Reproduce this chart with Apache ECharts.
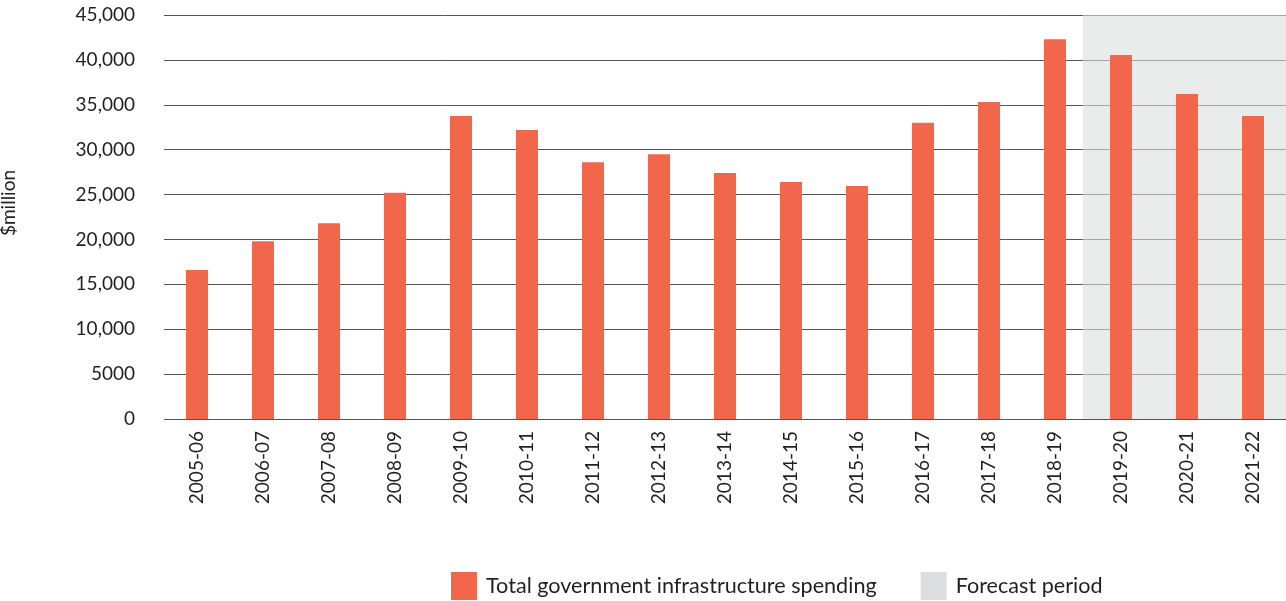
<!DOCTYPE html>
<html>
<head>
<meta charset="utf-8">
<script src="https://cdn.jsdelivr.net/npm/echarts@6/dist/echarts.min.js"></script>
<style>
  html, body { margin: 0; padding: 0; background: #fff; }
  #chart { width: 1286px; height: 601px; }
</style>
</head>
<body>
<div id="chart"></div>
<script>
var categories = ['2005-06','2006-07','2007-08','2008-09','2009-10','2010-11','2011-12','2012-13','2013-14','2014-15','2015-16','2016-17','2017-18','2018-19','2019-20','2020-21','2021-22'];
var spending = [16600, 19800, 21800, 25200, 33750, 32200, 28600, 29500, 27400, 26400, 25950, 33000, 35300, 42300, 40550, 36200, 33750];
var yTicks = [0, 5000, 10000, 15000, 20000, 25000, 30000, 35000, 40000, 45000];
var forecastStart = 13.42;   // forecast band start, in category index units
var forecastEnd = 16.5;

var FONT = 'Lato';
var chart = echarts.init(document.getElementById('chart'));
chart.setOption({
  animation: false,
  textStyle: { fontFamily: FONT },
  grid: { left: 164, right: 0, top: 15, bottom: 182, containLabel: false, outerBoundsMode: 'none' },
  legend: {
    top: 572,
    left: 451,
    padding: 0,
    icon: 'rect',
    itemWidth: 26,
    itemHeight: 28,
    itemGap: 44,
    textStyle: { fontFamily: FONT, fontSize: 21.6, color: '#231F20', padding: [0, 0, 0, 4] },
    data: ['Total government infrastructure spending', 'Forecast period']
  },
  xAxis: [{
    type: 'category',
    data: categories,
    boundaryGap: true,
    axisLine: { show: false },
    axisTick: { show: false },
    axisLabel: { rotate: 90, fontSize: 19, color: '#231F20', margin: 12, fontFamily: FONT }
  }, {
    type: 'value',
    min: -0.5,
    max: 16.5,
    show: false
  }],
  yAxis: {
    type: 'value',
    min: 0,
    max: 45000,
    interval: 5000,
    name: '$million',
    nameLocation: 'middle',
    nameRotate: 90,
    nameGap: 146,
    nameTextStyle: { fontSize: 19, color: '#231F20', fontFamily: FONT, padding: [0, 0, 0, 28] },
    axisLine: { show: false },
    axisTick: { show: false },
    splitLine: { lineStyle: { color: '#555', width: 1 } },
    axisLabel: {
      fontSize: 19, color: '#231F20', margin: 29, fontFamily: FONT,
      formatter: function (v) {
        if (yTicks.indexOf(v) < 0) return '';
        return v >= 10000 ? v.toLocaleString('en-US') : String(v);
      }
    }
  },
  series: [{
    name: 'Forecast period',
    type: 'line',
    xAxisIndex: 1,
    data: [],
    itemStyle: { color: '#DCDDDF' },
    lineStyle: { color: '#DCDDDF' },
    markArea: {
      silent: true,
      itemStyle: { color: 'rgba(218,222,220,0.59)' },
      data: [[{ xAxis: forecastStart }, { xAxis: forecastEnd }]]
    },
    z: 1
  }, {
    name: 'Total government infrastructure spending',
    type: 'bar',
    data: spending,
    barWidth: 22,
    itemStyle: { color: '#F2674B' },
    z: 3
  }]
});
</script>
</body>
</html>
